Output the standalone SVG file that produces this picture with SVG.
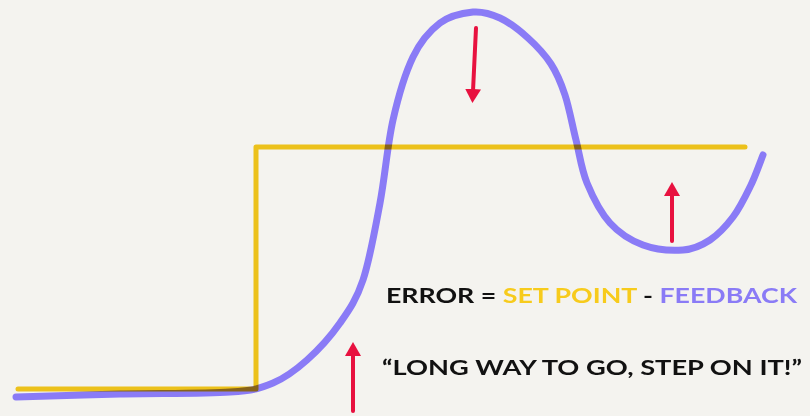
<svg xmlns="http://www.w3.org/2000/svg" width="810" height="416" viewBox="0 0 810 416">
  <defs>
    <marker id="head" viewBox="0 0 14 16" refX="2" refY="8" markerWidth="14" markerHeight="16" markerUnits="userSpaceOnUse" orient="auto">
      <path d="M0,0 L14,8 L0,16 Z" fill="#e8113f"/>
    </marker>
    <style>
      .setpoint { fill: none; stroke: #f7cb1c; stroke-width: 5; stroke-linecap: round; stroke-linejoin: round; mix-blend-mode: multiply; }
      .feedback { fill: none; stroke: #8a7bf6; stroke-width: 7; stroke-linecap: round; stroke-linejoin: round; }
      .arrow { stroke: #e8113f; stroke-width: 4; stroke-linecap: round; fill: none; }
      .lbl { font-family: "Lato", "Open Sans", "DejaVu Sans", sans-serif; font-weight: 700; font-size: 21px; }
    </style>
  </defs>
  <rect width="810" height="416" fill="#f4f3ef"/>

  <g id="feedback-curve">
    <path class="feedback" d="M16,397 C33,396.5 84.3,394.8 120,394 C155.7,393.2 204.5,393.8 230,392 C255.5,390.2 260.2,388.3 273,383 C285.8,377.7 295.8,370 307,360 C318.2,350 330.7,336.3 340,323 C349.3,309.7 356.3,300 363,280 C369.7,260 375,229.7 380,203 C385,176.3 387.5,144.3 393,120 C398.5,95.7 405.2,73.2 413,57 C420.8,40.8 430,30.5 440,23 C450,15.5 463,13 473,12 C483,11.2 490.8,13.7 500,18 C509.2,22.3 519.5,30.3 528,38 C536.5,45.7 544.8,54.5 551,64 C557.2,73.5 560.8,82.3 565,95 C569.2,107.7 572.3,125.3 576,140 C579.7,154.7 581.3,169.2 587,183 C592.7,196.8 600.7,212.7 610,223 C619.3,233.3 630.8,240.5 643,245 C655.2,249.5 671.8,250.8 683,250 C694.2,249.2 701.7,245.5 710,240 C718.3,234.5 726.3,225.8 733,217 C739.7,208.2 745,197.3 750,187 C755,177.3 760.8,160.3 763,155"/>
  </g>

  <g id="setpoint-line">
    <path class="setpoint" d="M18,389 L256,389 L256,147 L745,147"/>
  </g>

  <g id="connectors">
    <line class="arrow" x1="476" y1="28" x2="473" y2="91" marker-end="url(#head)"/>
    <line class="arrow" x1="672" y1="241" x2="672" y2="194" marker-end="url(#head)"/>
    <line class="arrow" x1="353" y1="411" x2="353" y2="354" marker-end="url(#head)"/>
  </g>

  <g id="formula">
    <text class="lbl" x="386" y="303" textLength="411" lengthAdjust="spacingAndGlyphs"><tspan fill="#111111">ERROR = </tspan><tspan fill="#f7cb1c">SET POINT</tspan><tspan fill="#111111"> - </tspan><tspan fill="#8a7bf6">FEEDBACK</tspan></text>
  </g>

  <g id="quote">
    <text class="lbl" x="382" y="375" font-size="22" textLength="420" lengthAdjust="spacingAndGlyphs" fill="#111111">“LONG WAY TO GO, STEP ON IT!”</text>
  </g>
</svg>
